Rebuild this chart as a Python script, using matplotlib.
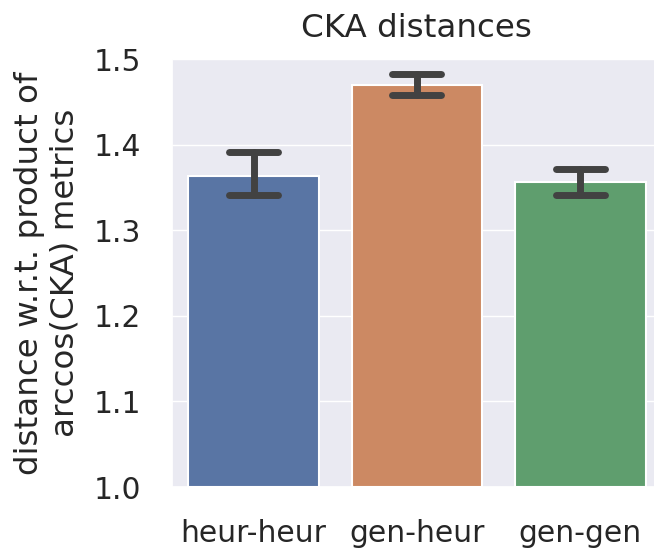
# bar chart of CKA distances with error bars
import matplotlib
matplotlib.use("Agg")
import matplotlib.pyplot as plt
import seaborn as sns

# data
pairs = ["heur-heur", "gen-heur", "gen-gen"]
means = [1.363, 1.470, 1.356]
ci_low = [1.341, 1.458, 1.341]
ci_high = [1.391, 1.483, 1.371]

sns.set_theme(style="darkgrid", font_scale=1.95)

fig = plt.figure(figsize=(6.54, 5.48), dpi=100)
ax = fig.add_axes([0.263, 0.1113, 0.749, 0.781])

# seaborn's deep palette, desaturated like barplot does
cols = [sns.desaturate(c, 0.75) for c in sns.color_palette("deep", 3)]
xs = list(range(len(pairs)))
ax.bar(xs, [m - 1.0 for m in means], bottom=1.0, width=0.8, color=cols,
       edgecolor="white", linewidth=1.5)

# error bars with caps
errcol = (0.26, 0.26, 0.26)
capsize = 0.3
for i in xs:
    ax.plot([i, i], [ci_low[i], ci_high[i]], color=errcol, lw=5,
            solid_capstyle="round")
    for yv in (ci_low[i], ci_high[i]):
        ax.plot([i - capsize / 2, i + capsize / 2], [yv, yv], color=errcol,
                lw=5, solid_capstyle="round")

ax.set_xlim(-0.5, 2.5)
ax.set_ylim(1.0, 1.5)
ax.grid(False, axis="x")
ax.set_xticks(xs)
ax.set_xticklabels(pairs)
ax.set_yticks([1.0, 1.1, 1.2, 1.3, 1.4, 1.5])
ax.tick_params(axis="y", pad=16.5)
ax.tick_params(axis="x", pad=17.3)
ax.set_ylabel("distance w.r.t. product of\narccos(CKA) metrics")
ax.yaxis.set_label_coords(-0.186, 0.5)
ax.set_title("CKA distances", pad=15.8)

fig.savefig("out.png", dpi=100)
